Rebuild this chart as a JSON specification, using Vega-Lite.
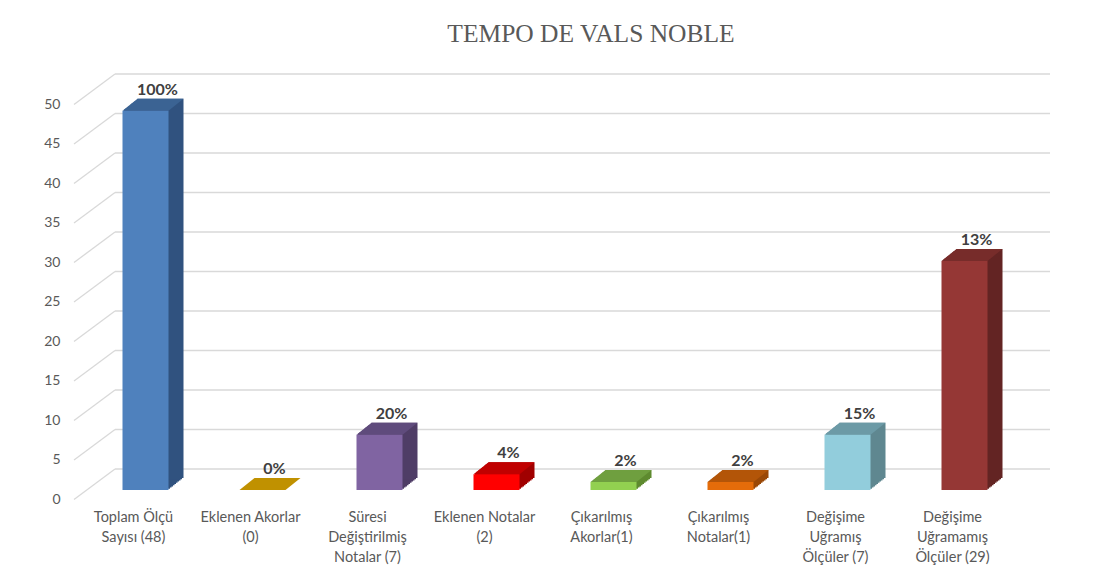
{
  "$schema": "https://vega.github.io/schema/vega-lite/v6.json",
  "autosize": {"type": "none"},
  "width": 936,
  "height": 395,
  "padding": {"left": 75, "top": 95, "right": 83, "bottom": 92},
  "background": "white",
  "title": {"text": "TEMPO DE VALS NOBLE", "font": "Liberation Serif", "fontSize": 25.5, "fontWeight": "normal", "color": "#595959", "anchor": "middle", "frame": "group", "baseline": "alphabetic", "dx": 48, "offset": 6},
  "config": {
    "view": {"stroke": null},
    "axisY": {"grid": false, "domain": false, "ticks": false, "tickSize": 0, "labelPadding": 15, "labelOffset": 9, "labelFont": "Lato", "labelFontSize": 14, "labelColor": "#595959", "values": [0,5,10,15,20,25,30,35,40,45,50]},
    "axisX": {"grid": false, "domain": false, "ticks": false, "tickSize": 0, "labelPadding": 20, "labelAngle": 0, "labelFont": "Lato", "labelFontSize": 14.5, "labelColor": "#595959", "labelLineHeight": 20, "labelBaseline": "top", "labelExpr": "split(datum.label, '|')"}
  },
  "datasets": {
    "main": [
      {"cat": "Toplam Ölçü|Sayısı (48)", "v": 48, "pct": "100%"},
      {"cat": "Eklenen Akorlar|(0)", "v": 0, "pct": "0%"},
      {"cat": "Süresi|Değiştirilmiş|Notalar (7)", "v": 7, "pct": "20%"},
      {"cat": "Eklenen Notalar|(2)", "v": 2, "pct": "4%"},
      {"cat": "Çıkarılmış|Akorlar(1)", "v": 1, "pct": "2%"},
      {"cat": "Çıkarılmış|Notalar(1)", "v": 1, "pct": "2%"},
      {"cat": "Değişime|Uğramış|Ölçüler (7)", "v": 7, "pct": "15%"},
      {"cat": "Değişime|Uğramamış|Ölçüler (29)", "v": 29, "pct": "13%"}
    ],
    "grid": [{"g": 0},{"g": 5},{"g": 10},{"g": 15},{"g": 20},{"g": 25},{"g": 30},{"g": 35},{"g": 40},{"g": 45},{"g": 50}]
  },
  "encoding": {
    "x": {"field": "cat", "type": "nominal", "sort": null, "scale": {"domain": ["Toplam Ölçü|Sayısı (48)", "Eklenen Akorlar|(0)", "Süresi|Değiştirilmiş|Notalar (7)", "Eklenen Notalar|(2)", "Çıkarılmış|Akorlar(1)", "Çıkarılmış|Notalar(1)", "Değişime|Uğramış|Ölçüler (7)", "Değişime|Uğramamış|Ölçüler (29)"], "paddingInner": 0, "paddingOuter": 0}, "title": null}
  },
  "resolve": {"scale": {"color": "independent"}},
  "layer": [
    {
      "data": {"name": "grid"},
      "mark": {"type": "rule", "color": "#d9d9d9", "strokeWidth": 1.3, "xOffset": -18.5, "x2Offset": 97.5, "yOffset": -21},
      "encoding": {
        "x": {"datum": "Toplam Ölçü|Sayısı (48)", "type": "nominal"},
        "x2": {"datum": "Değişime|Uğramamış|Ölçüler (29)"},
        "y": {"field": "g", "type": "quantitative", "scale": {"domain": [0, 50], "nice": false}, "title": null}
      }
    },
    {
      "data": {"name": "grid"},
      "mark": {"type": "rule", "color": "#d9d9d9", "strokeWidth": 1.3, "xOffset": -59.5, "x2Offset": -18.5, "yOffset": 9.5, "y2Offset": -21},
      "encoding": {
        "x": {"datum": "Toplam Ölçü|Sayısı (48)", "type": "nominal"},
        "x2": {"datum": "Toplam Ölçü|Sayısı (48)"},
        "y": {"field": "g", "type": "quantitative", "title": null},
        "y2": {"field": "g"}
      }
    },
    {
      "data": {"name": "main"},
      "encoding": {
        "x": {"field": "cat", "type": "nominal", "sort": null, "title": null},
        "y": {"field": "v", "type": "quantitative", "title": null}
      },
      "resolve": {"scale": {"color": "independent"}},
      "layer": [
        {"mark": {"type": "bar", "width": 46, "xOffset": 13.5, "yOffset": -1.2, "y2Offset": -1.2}, "encoding": {"color": {"field": "cat", "type": "nominal", "sort": null, "legend": null, "scale": {"range": ["#30527f","#8a6a00","#4f3d66","#a00000","#5e8a2f","#9a4806","#5f8790","#632423"]}}}},
        {"mark": {"type": "bar", "width": 46, "xOffset": 15, "yOffset": -2.4, "y2Offset": -2.4}, "encoding": {"color": {"field": "cat", "type": "nominal", "sort": null, "legend": null, "scale": {"range": ["#30527f","#8a6a00","#4f3d66","#a00000","#5e8a2f","#9a4806","#5f8790","#632423"]}}}},
        {"mark": {"type": "bar", "width": 46, "xOffset": 16.5, "yOffset": -3.6, "y2Offset": -3.6}, "encoding": {"color": {"field": "cat", "type": "nominal", "sort": null, "legend": null, "scale": {"range": ["#30527f","#8a6a00","#4f3d66","#a00000","#5e8a2f","#9a4806","#5f8790","#632423"]}}}},
        {"mark": {"type": "bar", "width": 46, "xOffset": 18, "yOffset": -4.8, "y2Offset": -4.8}, "encoding": {"color": {"field": "cat", "type": "nominal", "sort": null, "legend": null, "scale": {"range": ["#30527f","#8a6a00","#4f3d66","#a00000","#5e8a2f","#9a4806","#5f8790","#632423"]}}}},
        {"mark": {"type": "bar", "width": 46, "xOffset": 19.5, "yOffset": -6, "y2Offset": -6}, "encoding": {"color": {"field": "cat", "type": "nominal", "sort": null, "legend": null, "scale": {"range": ["#30527f","#8a6a00","#4f3d66","#a00000","#5e8a2f","#9a4806","#5f8790","#632423"]}}}},
        {"mark": {"type": "bar", "width": 46, "xOffset": 21, "yOffset": -7.2, "y2Offset": -7.2}, "encoding": {"color": {"field": "cat", "type": "nominal", "sort": null, "legend": null, "scale": {"range": ["#30527f","#8a6a00","#4f3d66","#a00000","#5e8a2f","#9a4806","#5f8790","#632423"]}}}},
        {"mark": {"type": "bar", "width": 46, "xOffset": 22.5, "yOffset": -8.4, "y2Offset": -8.4}, "encoding": {"color": {"field": "cat", "type": "nominal", "sort": null, "legend": null, "scale": {"range": ["#30527f","#8a6a00","#4f3d66","#a00000","#5e8a2f","#9a4806","#5f8790","#632423"]}}}},
        {"mark": {"type": "bar", "width": 46, "xOffset": 24, "yOffset": -9.6, "y2Offset": -9.6}, "encoding": {"color": {"field": "cat", "type": "nominal", "sort": null, "legend": null, "scale": {"range": ["#30527f","#8a6a00","#4f3d66","#a00000","#5e8a2f","#9a4806","#5f8790","#632423"]}}}},
        {"mark": {"type": "bar", "width": 46, "xOffset": 25.5, "yOffset": -10.8, "y2Offset": -10.8}, "encoding": {"color": {"field": "cat", "type": "nominal", "sort": null, "legend": null, "scale": {"range": ["#30527f","#8a6a00","#4f3d66","#a00000","#5e8a2f","#9a4806","#5f8790","#632423"]}}}},
        {"mark": {"type": "bar", "width": 46, "xOffset": 27, "yOffset": -12, "y2Offset": -12}, "encoding": {"color": {"field": "cat", "type": "nominal", "sort": null, "legend": null, "scale": {"range": ["#30527f","#8a6a00","#4f3d66","#a00000","#5e8a2f","#9a4806","#5f8790","#632423"]}}}},
        {"mark": {"type": "point", "filled": true, "opacity": 1, "strokeWidth": 0, "size": 3721, "xOffset": 19.5, "yOffset": -6, "shape": "M -1 0.197 L 0.508 0.197 L 1 -0.197 L -0.508 -0.197 Z"}, "encoding": {"color": {"field": "cat", "type": "nominal", "sort": null, "legend": null, "scale": {"range": ["#3b6393","#c09100","#5f4b7c","#c00000","#6f9f3f","#b35508","#6c9aa6","#772c2a"]}}}},
        {"mark": {"type": "bar", "width": 46, "xOffset": 12}, "encoding": {"color": {"field": "cat", "type": "nominal", "sort": null, "legend": null, "scale": {"range": ["#4f81bd","#c09100","#8064a2","#ff0000","#92d050","#e46c0a","#92cddc","#953735"]}}}},
        {"mark": {"type": "text", "font": "Lato", "fontSize": 16, "fontWeight": "bold", "color": "#404040", "align": "center", "baseline": "alphabetic", "xOffset": 24, "dy": -16}, "encoding": {"text": {"field": "pct"}}}
      ]
    }
  ]
}
